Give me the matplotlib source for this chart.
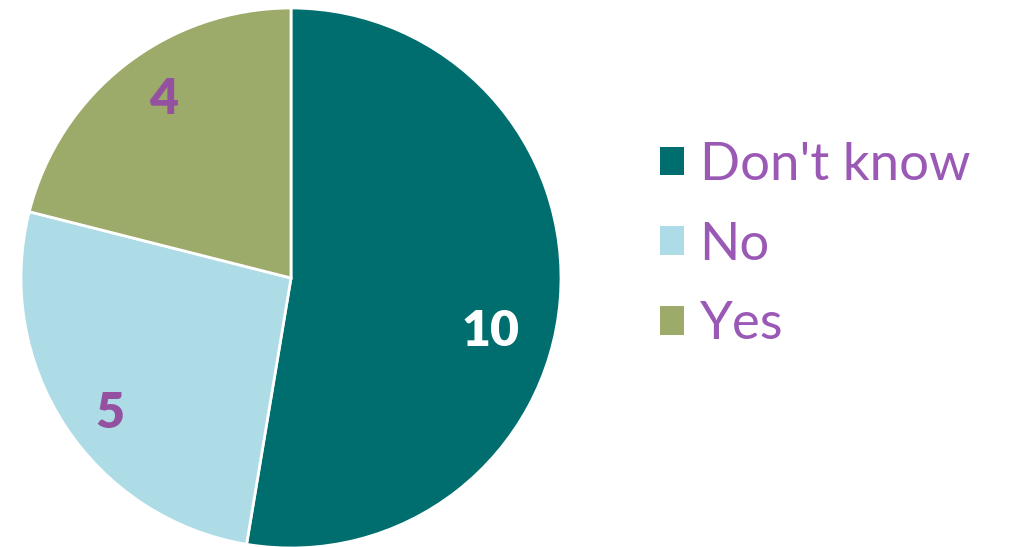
import matplotlib
matplotlib.use("Agg")
import matplotlib.pyplot as plt

categories = ["Don't know", "No", "Yes"]
counts = [10, 5, 4]

colors = ["#006E6E", "#ADDCE6", "#9CAA6A"]
label_colors = ["#FFFFFF", "#94519F", "#94519F"]
text_purple = "#9B59B6"

plt.rcParams["font.family"] = ["Lato", "DejaVu Sans"]

fig = plt.figure(figsize=(10.17, 5.47), dpi=100)
ax = fig.add_axes([21 / 1017, -1 / 547, 540 / 1017, 540 / 547])

wedges, texts = ax.pie(
    counts,
    labels=[str(c) for c in counts],
    colors=colors,
    startangle=90,
    counterclock=False,
    radius=1.0,
    labeldistance=0.8,
    wedgeprops=dict(edgecolor="white", linewidth=2),
)
# nudge the label positions a little to match the source layout
label_pos = [(0.74, -0.20), (-0.67, -0.50), (-0.47, 0.66)]
for t, col, pos in zip(texts, label_colors, label_pos):
    t.set_color(col)
    t.set_fontsize(36)
    t.set_fontweight("heavy")
    t.set_position(pos)
    t.set_ha("center")
    t.set_va("center")

ax.set_xlim(-1, 1)
ax.set_ylim(-1, 1)
ax.set_aspect("equal")

leg = fig.legend(
    wedges,
    categories,
    loc="center left",
    bbox_to_anchor=(612 / 1017, 1 - 245 / 547),
    frameon=False,
    fontsize=38,
    labelcolor=text_purple,
    handlelength=0.46,
    handleheight=0.46,
    handletextpad=0.3,
    labelspacing=0.62,
)
for h in leg.legend_handles:
    h.set_edgecolor("none")

fig.savefig("out.png", dpi=100)
